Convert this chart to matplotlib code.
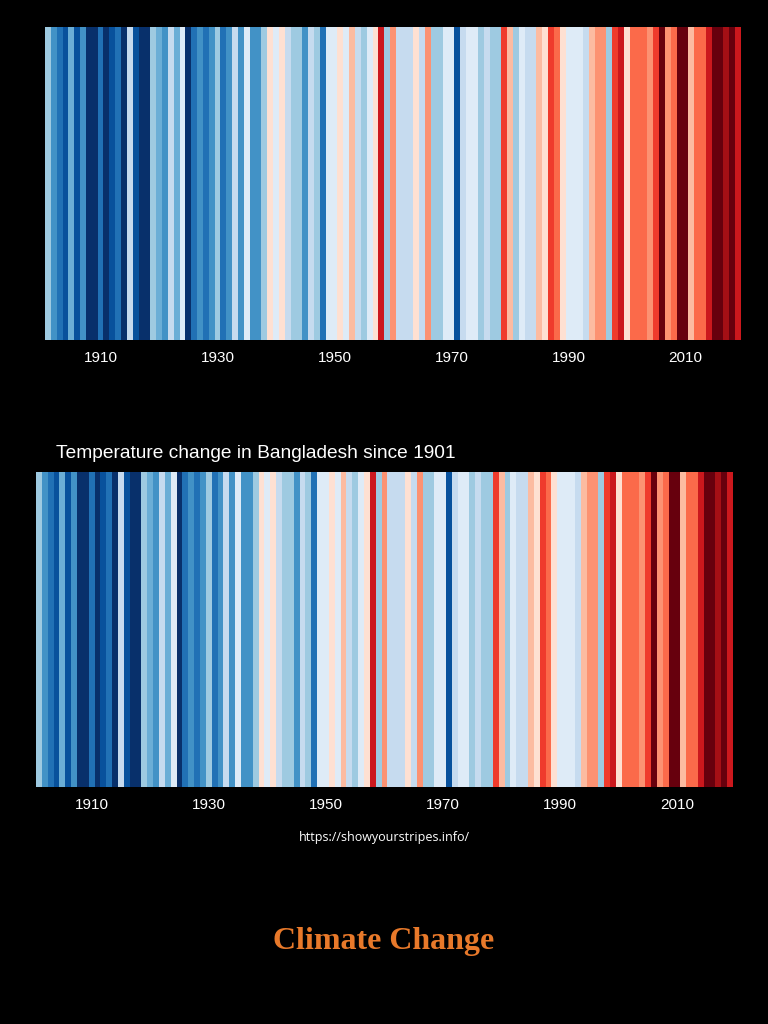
import numpy as np
import matplotlib
matplotlib.use('Agg')
import matplotlib.pyplot as plt
from matplotlib.colors import ListedColormap, BoundaryNorm

# warming stripes colours (8 blues + 8 reds)
stripe_colors = ['#08306b', '#08519c', '#2171b5', '#4292c6', '#6baed6', '#9ecae1', '#c6dbef', '#deebf7',
                 '#fee0d2', '#fcbba1', '#fc9272', '#fb6a4a', '#ef3b2c', '#cb181d', '#a50f15', '#67000d']

years = np.arange(1901, 2020)

# temperature anomaly (degC)
anom_1901_1920 = [-0.25, -0.45, -0.55, -0.65, -0.35, -0.65, -0.45, -0.75, -0.75, -0.55,
                  -0.75, -0.65, -0.55, -0.75, -0.15, -0.65, -0.75, -0.75, -0.25, -0.35]
anom_1921_1940 = [-0.45, -0.15, -0.35, -0.05, -0.75, -0.55, -0.45, -0.55, -0.45, -0.25,
                  -0.55, -0.45, -0.15, -0.45, -0.05, -0.45, -0.45, -0.25, 0.05, -0.05]
anom_1941_1960 = [0.05, -0.15, -0.25, -0.25, -0.45, -0.15, -0.25, -0.55, -0.05, -0.05,
                  0.05, -0.05, 0.15, -0.15, -0.25, -0.05, 0.05, 0.55, -0.25, 0.25]
anom_1961_1980 = [-0.15, -0.15, -0.15, 0.05, -0.15, 0.25, -0.25, -0.25, -0.05, -0.05,
                  -0.65, -0.15, -0.05, -0.05, -0.25, -0.15, -0.25, -0.25, 0.45, 0.15]
anom_1981_2000 = [-0.25, -0.05, -0.15, -0.15, 0.15, 0.05, 0.45, 0.35, 0.05, -0.05,
                  -0.05, -0.05, -0.15, 0.15, 0.25, 0.25, -0.25, 0.45, 0.55, 0.05]
anom_2001_2019 = [0.35, 0.35, 0.35, 0.25, 0.45, 0.75, 0.25, 0.35, 0.75, 0.75,
                  0.15, 0.35, 0.35, 0.55, 0.75, 0.75, 0.65, 0.75, 0.55]

anomaly = np.array(anom_1901_1920 + anom_1921_1940 + anom_1941_1960 +
                   anom_1961_1980 + anom_1981_2000 + anom_2001_2019)

tick_years = [1910, 1930, 1950, 1970, 1990, 2010]

cmap = ListedColormap(stripe_colors)
norm = BoundaryNorm(np.linspace(-0.8, 0.8, 17), cmap.N)

plt.rcParams['font.family'] = ['Liberation Sans', 'DejaVu Sans']

fig = plt.figure(figsize=(7.68, 10.24), dpi=100, facecolor='black')


def stripes(ax):
    ax.set_facecolor('black')
    ax.bar(years, 1.0, width=1.0, bottom=0, color=cmap(norm(anomaly)), linewidth=0)
    ax.set_xlim(1900.5, 2019.5)
    ax.set_ylim(0, 1)
    ax.set_yticks([])
    ax.set_xticks(tick_years)
    ax.tick_params(axis='x', length=0, colors='white', labelsize=11, pad=8)
    for s in ax.spines.values():
        s.set_visible(False)


ax1 = fig.add_axes([45/768, 1-340/1024, 696/768, 313/1024])
stripes(ax1)

ax2 = fig.add_axes([36/768, 1-787/1024, 697/768, 315/1024])
stripes(ax2)

fig.text(56/768, 1-453/1024, 'Temperature change in Bangladesh since 1901',
         color='white', fontsize=13.8, ha='left', va='center')

fig.text(0.5, 1-838/1024, 'https://showyourstripes.info/', color='white',
         fontsize=9, ha='center', va='center', family=['Open Sans', 'DejaVu Sans'])

fig.text(0.5, 1-941/1024, 'Climate Change', color='#e8792a', fontsize=23,
         fontweight='bold', ha='center', va='center', family=['Liberation Serif', 'DejaVu Serif'])

fig.savefig('out.png', dpi=100, facecolor='black')
